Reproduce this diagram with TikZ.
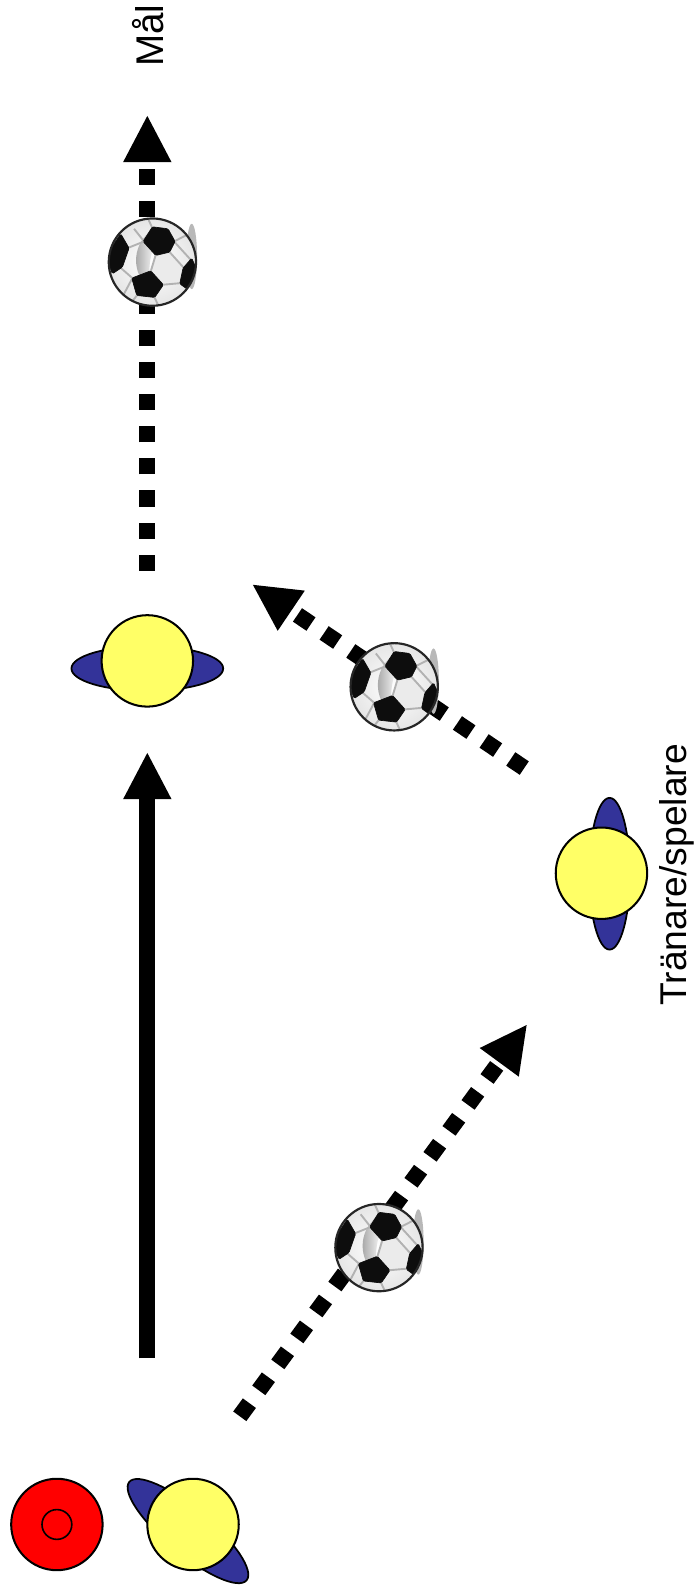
\documentclass[tikz,border=0pt]{standalone}
\usepackage{fontspec}
\setmainfont{Liberation Sans}
\usetikzlibrary{arrows.meta,shapes.geometric}
\definecolor{plyellow}{HTML}{FFFF66}
\definecolor{plblue}{HTML}{333399}
\tikzset{
  x=0.75pt,y=-0.75pt,
  run/.style={line width=12pt,draw=black,-{Triangle[length=35pt,width=33pt]}},
  pass/.style={run,dash pattern=on 12pt off 11.75pt},
  body/.style={circle,draw=black,line width=1.5pt,fill=plyellow,minimum size=67.5pt,inner sep=0pt},
  arms/.style={ellipse,draw=black,line width=1.3pt,fill=plblue},
  cone/.style={circle,draw=black,line width=1.5pt,fill=red,inner sep=0pt},
  lbl/.style={rotate=90,inner sep=0pt},
  patch/.style={fill=black!95,draw=black!95,line width=.5pt,rounded corners=1pt},
  seam/.style={draw=black!30,line width=1.4pt},
  ballpic/.pic={
    \begin{scope}[x=0.246pt,y=-0.246pt]
      \fill[black!28] (118,-17) ellipse [x radius=16,y radius=98];
      \shade[inner color=white,outer color=black!10] (0,0) circle [radius=131];
      \begin{scope}
        \clip (0,0) circle [radius=131];
        \fill[black!8] (10,-22) -- (50,-32) -- (95,18) -- (85,63) -- (30,68) -- (-5,28) -- cycle;
        \shade[left color=black!40,right color=black!4]
          (-10,-90) .. controls (-62,-45) and (-62,35) .. (-10,78)
          .. controls (-12,40) and (-8,-30) .. (5,-40) -- cycle;
        \draw[seam] (-75,-42) -- (-25,-62) (-25,-62) -- (-55,-100) (0,-102) -- (-15,-135)
          (65,-62) -- (110,-85) (50,-32) -- (95,18) (10,-22) -- (-5,28) (-60,48) -- (-100,13)
          (-60,48) -- (-85,95) (30,68) -- (85,63) (-45,98) -- (-70,130) (5,103) -- (20,135)
          (105,78) -- (130,95) (115,-7) -- (65,-62) (-75,-42) -- (-100,-77);
        \draw[patch] (0,-106) -- (47,-100) -- (68,-62) -- (52,-30) -- (10,-20) -- (-28,-62) -- cycle;
        \draw[patch] (-62,48) -- (-5,26) -- (33,68) -- (7,106) -- (-47,100) -- cycle;
        \draw[patch] (-95,-85) -- (-70,-42) -- (-90,15) -- (-120,35) -- (-140,-17) -- cycle;
        \draw[patch] (118,-12) -- (140,38) -- (110,85) -- (82,65) -- (92,18) -- cycle;
      \end{scope}
      \draw[black!85,line width=1.6pt] (0,0) circle [radius=131];
    \end{scope}
  }
}
\begin{document}
\begin{tikzpicture}
\useasboundingbox (0,0) rectangle (686,1565);
% arrow end points
\coordinate (goalTip) at (145,113);
\coordinate (p1Out) at (145,562);
\coordinate (p1In) at (145,740);
\coordinate (p3Up) at (145,1337);
\coordinate (p2Out) at (516,756);
\coordinate (p1Recv) at (248,575);
\coordinate (p3Out) at (236,1394);
\coordinate (p2Recv) at (519,1008);
% connectors
\draw[pass] (p1Out) -- (goalTip);
\draw[run] (p3Up) -- (p1In);
\draw[pass] (p2Out) -- (p1Recv);
\draw[pass] (p3Out) -- (p2Recv);
% balls
\pic (ballA) at (150,258) {ballpic};
\pic (ballB) at (388,676) {ballpic};
\pic (ballC) at (373,1228) {ballpic};
% player arms
\node[arms,minimum width=112pt,minimum height=33pt,inner sep=0pt] (armsA) at (145,658) {};
\node[arms,minimum width=112pt,minimum height=30pt,inner sep=0pt,rotate=90] (armsB) at (600,860) {};
\node[arms,minimum width=113pt,minimum height=33pt,inner sep=0pt,rotate=-40] (armsC) at (185,1507) {};
% player bodies
\node[body] (playerA) at (145,650.5) {};
\node[body] (playerB) at (592,859.5) {};
\node[body] (playerC) at (190,1500.5) {};
% cone
\node[cone,minimum size=67.5pt] (coneOut) at (56,1500.5) {};
\node[cone,minimum size=22pt,line width=1.2pt] (coneIn) at (56,1500.5) {};
% labels
\node[lbl,font=\fontsize{28.5pt}{30pt}\selectfont] (goalLbl) at (146,35) {Mål};
\node[lbl,font=\fontsize{27.5pt}{30pt}\selectfont] (coachLbl) at (666,861) {Tränare/spelare};
\end{tikzpicture}
\end{document}
